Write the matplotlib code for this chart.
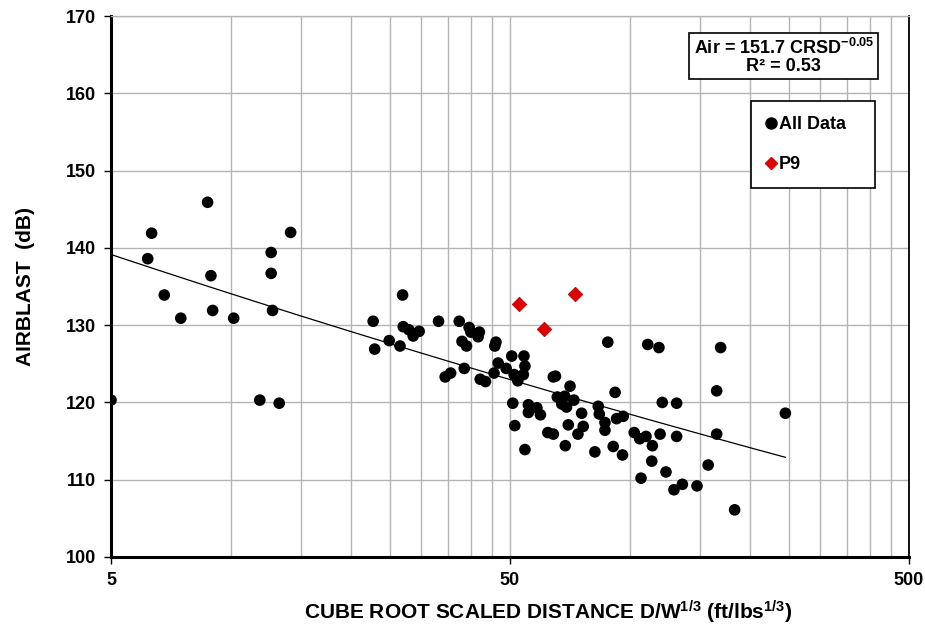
import numpy as np
import matplotlib
matplotlib.use("Agg")
import matplotlib.pyplot as plt
from matplotlib.ticker import FixedLocator, NullFormatter
from matplotlib.lines import Line2D

plt.rcParams['font.family'] = ['Liberation Sans', 'DejaVu Sans']
plt.rcParams['font.weight'] = 'bold'
plt.rcParams['mathtext.fontset'] = 'custom'
plt.rcParams['mathtext.rm'] = 'Liberation Sans:bold'
plt.rcParams['mathtext.it'] = 'Liberation Sans:bold'
plt.rcParams['mathtext.bf'] = 'Liberation Sans:bold'
plt.rcParams['mathtext.default'] = 'regular'

# all data: scaled distance (ft/lbs^1/3), airblast (dB)
all_sd = [5.0, 8.73, 6.32, 6.18, 6.80, 7.48, 8.90, 8.99, 10.15, 14.1, 12.6, 12.6, 12.7, 11.8, 13.2,
          26.9, 22.7, 22.9, 24.9, 26.5, 27.0, 27.9, 28.6, 29.6, 33.1, 37.3, 39.5, 39.9, 41.9, 41.6,
          37.9, 38.9, 46.1, 45.8, 34.4, 35.5, 38.4, 42.1, 43.4, 45.6, 46.7, 48.9, 50.5, 54.2, 54.5,
          51.2, 54.0, 52.3, 64.2, 65.0, 70.7, 87.9, 110.7, 118.1, 168.6, 164.8, 91.7, 65.7, 68.6,
          72.3, 67.4, 69.3, 50.8, 55.6, 58.4, 55.6, 59.6, 75.6, 83.2, 83.7, 86.5, 86.5, 92.5, 96.1,
          51.4, 62.2, 64.2, 70.0, 76.3, 74.0, 54.5, 68.8, 81.6, 90.7, 95.7, 102.4, 105.7, 109.6,
          118.9, 130.8, 164.8, 120.4, 130.8, 113.7, 113.3, 123.0, 106.5, 128.8, 135.2, 147.1,
          156.9, 182.8, 245.0]
all_db = [120.3, 145.9, 141.9, 138.6, 133.9, 130.9, 136.4, 131.9, 130.9, 142.0, 139.4, 136.7, 131.9, 120.3, 119.9,
          133.9, 130.5, 126.9, 128.0, 127.3, 129.8, 129.4, 128.6, 129.2, 130.5, 130.5, 129.7, 129.1, 129.1, 128.5,
          127.9, 127.3, 127.8, 127.3, 123.3, 123.8, 124.4, 123.0, 122.7, 123.8, 125.1, 124.4, 126.0, 126.0, 124.7,
          123.6, 123.6, 122.8, 123.3, 123.4, 122.1, 127.8, 127.5, 127.1, 127.1, 121.5, 121.3, 120.7, 120.8,
          120.3, 119.8, 119.4, 119.9, 119.7, 119.3, 118.7, 118.4, 118.6, 119.5, 118.5, 117.4, 116.4, 117.9, 118.2,
          117.0, 116.1, 115.9, 117.1, 116.9, 115.9, 113.9, 114.4, 113.6, 114.3, 113.2, 116.1, 115.3, 115.6,
          115.9, 115.6, 115.9, 120.0, 119.9, 114.4, 112.4, 111.0, 110.2, 108.7, 109.4, 109.2,
          111.9, 106.1, 118.6]

# P9 shots
p9_sd = [52.8, 60.8, 72.7]
p9_db = [132.8, 129.5, 134.0]

# power trend Air = a * CRSD^b
trend_a = 151.7
trend_b = -0.0537

x_major = [5, 50, 500]
x_minor = [10, 15, 20, 25, 30, 35, 40, 45, 100, 150, 200, 250, 300, 350, 400, 450]
y_ticks = [100, 110, 120, 130, 140, 150, 160, 170]

fig = plt.figure(figsize=(9.25, 6.31), dpi=100)
ax = fig.add_axes([0.12, 0.1173, 0.8627, 0.8573])

ax.set_xscale('log')
ax.set_xlim(5, 500)
ax.set_ylim(100, 170)

ax.xaxis.set_major_locator(FixedLocator(x_major))
ax.set_xticklabels([str(v) for v in x_major])
ax.xaxis.set_minor_locator(FixedLocator(x_minor))
ax.xaxis.set_minor_formatter(NullFormatter())
ax.set_yticks(y_ticks)

ax.grid(True, which='both', axis='x', color='#b4b4b4', linewidth=1.0)
ax.grid(True, which='major', axis='y', color='#b4b4b4', linewidth=1.0)
ax.set_axisbelow(True)

ax.tick_params(axis='both', which='major', labelsize=13, length=5, width=1, direction='out', pad=6)
ax.tick_params(axis='x', which='minor', length=0)
for lab in ax.get_xticklabels() + ax.get_yticklabels():
    lab.set_fontweight('bold')

for side in ['left', 'bottom']:
    ax.spines[side].set_linewidth(2.2)
    ax.spines[side].set_color('black')
ax.spines['right'].set_linewidth(1.3)
ax.spines['right'].set_color('black')
ax.spines['top'].set_color('#b4b4b4')
ax.spines['top'].set_linewidth(1.0)

# trend line over the data range
xs = np.logspace(np.log10(min(all_sd)), np.log10(max(all_sd)), 200)
ax.plot(xs, trend_a * xs ** trend_b, color='black', linewidth=0.9, zorder=2)

ax.scatter(all_sd, all_db, s=70, color='black', edgecolors='none', zorder=3)
ax.scatter(p9_sd, p9_db, marker='D', s=55, color='#e00000', edgecolors='#b00000', linewidths=0.5, zorder=4)

ax.set_xlabel('CUBE ROOT SCALED DISTANCE D/W$^{1/3}$ (ft/lbs$^{1/3}$)', fontsize=15, fontweight='bold')
ax.xaxis.set_label_coords(0.548, -0.078)
ax.set_ylabel('AIRBLAST  (dB)', fontsize=15, fontweight='bold', labelpad=22)

ax.text(0.843, 0.926, 'Air = 151.7 CRSD$^{-0.05}$\nR² = 0.53', transform=ax.transAxes,
        ha='center', va='center', fontsize=13, fontweight='bold', linespacing=1.0,
        bbox=dict(boxstyle='square,pad=0.25', facecolor='white', edgecolor='black', linewidth=1.2),
        zorder=5)

handles = [Line2D([], [], linestyle='none', marker='o', markersize=8, color='black', label='All Data'),
           Line2D([], [], linestyle='none', marker='D', markersize=6, color='#e00000', label='P9')]
leg = ax.legend(handles=handles, loc='upper left', bbox_to_anchor=(0.802, 0.686, 0.155, 0.157),
                mode='expand', fontsize=13, frameon=True, fancybox=False, framealpha=1,
                edgecolor='black', borderpad=0.85, labelspacing=1.25, handlelength=0.5,
                handletextpad=0.2, borderaxespad=0)
leg.get_frame().set_linewidth(1.2)
leg.set_zorder(5)
for t in leg.get_texts():
    t.set_fontweight('bold')

fig.savefig('out.png', dpi=100, facecolor='white')
